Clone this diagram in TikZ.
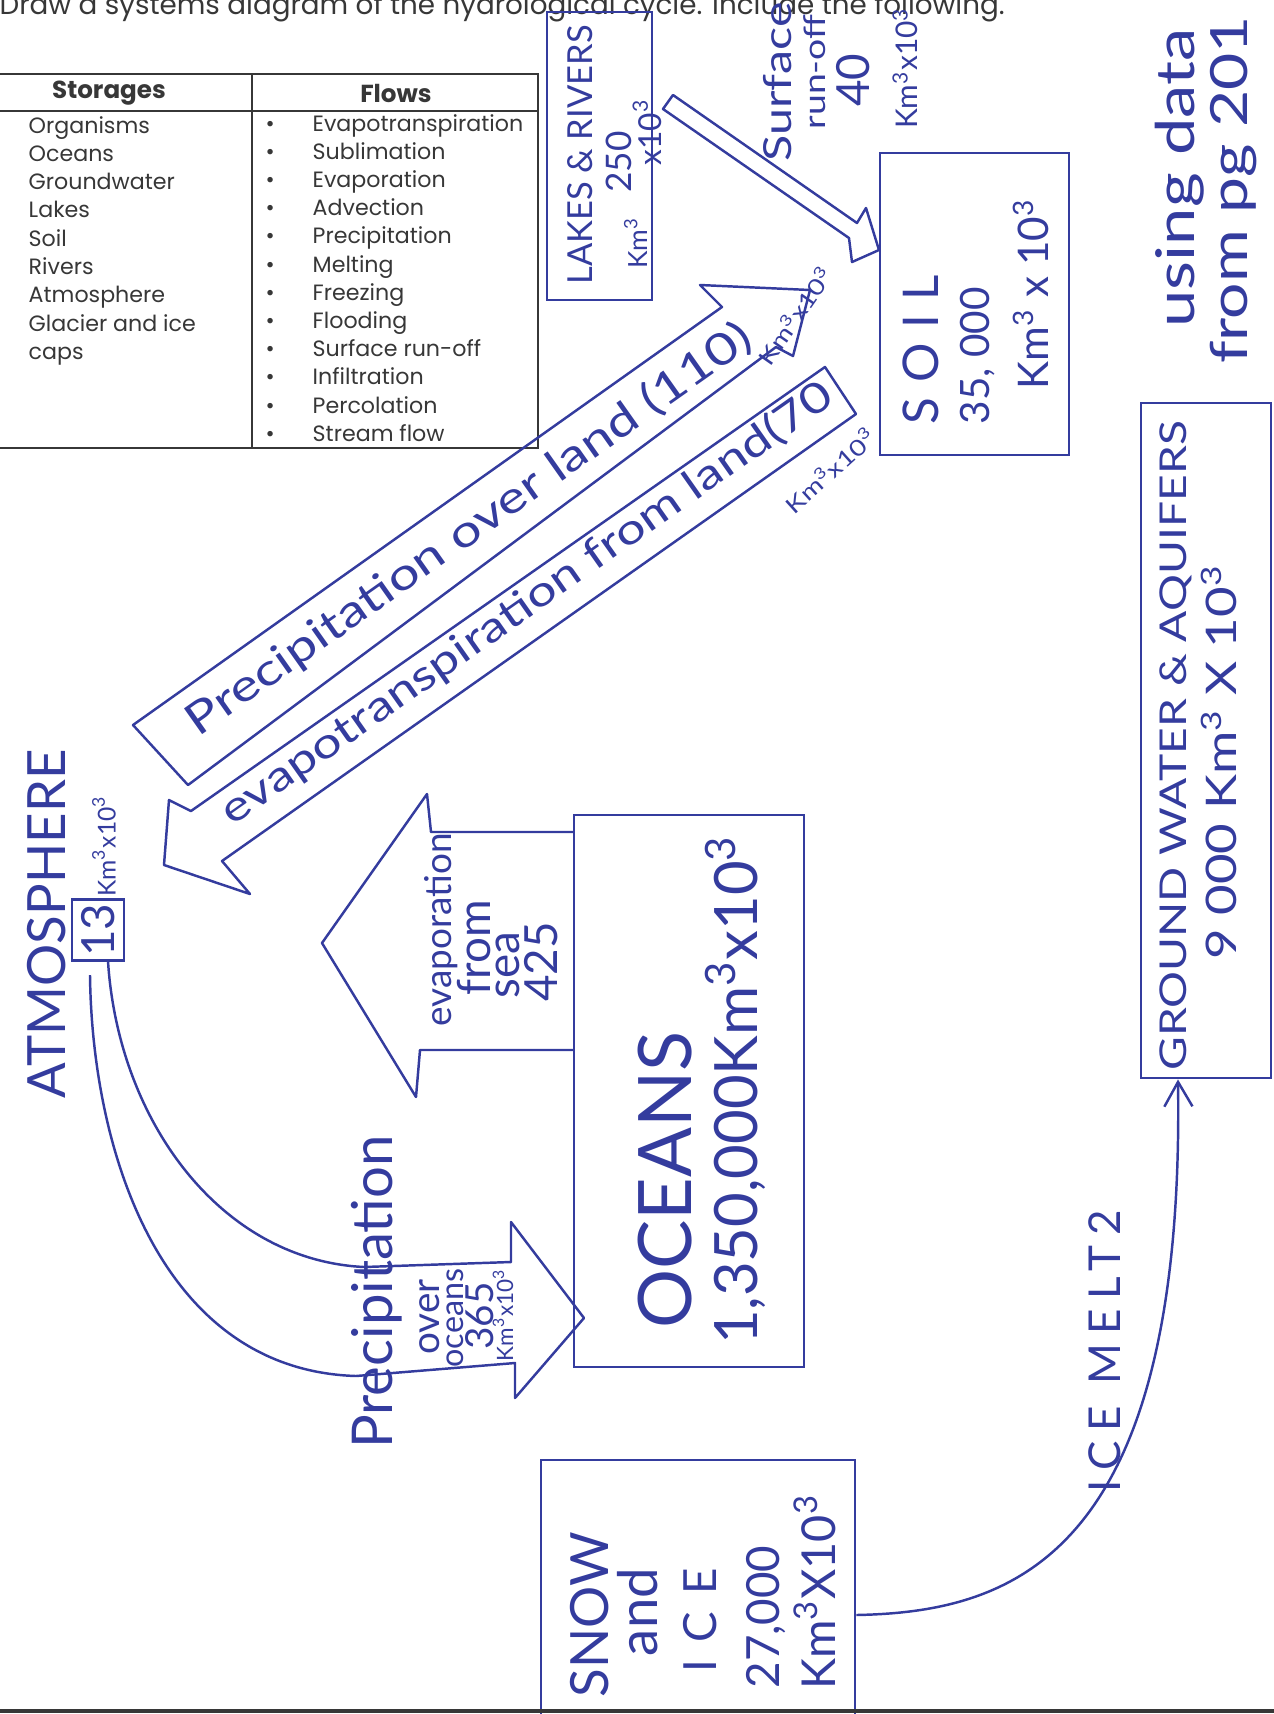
\documentclass[tikz,border=0pt]{standalone}
\usepackage{fontspec}
\setmainfont{Poppins}
\newfontfamily\hand{Lato}
\newfontfamily\handwide[FakeStretch=1.25]{Lato}
\usetikzlibrary{calc,arrows.meta}
\definecolor{pen}{RGB}{52,60,158}
\definecolor{print}{RGB}{55,55,55}
\newcommand\cu{\textsuperscript{3}}
\newcommand\spread[1]{\addfontfeatures{LetterSpace=#1}}
\tikzset{
  hw/.style={text=pen, inner sep=0pt, font=\hand\fontsize{#1}{#1}\selectfont},
  hwup/.style={hw=#1, rotate=90},
  hww/.style={text=pen, inner sep=0pt, font=\handwide\fontsize{#1}{#1}\selectfont},
  hwwup/.style={hww=#1, rotate=90},
  store/.style={draw=pen, line width=0.7pt, inner sep=0pt},
  flow/.style={draw=pen, line width=0.7pt, line join=round},
  cell/.style={text=print, inner sep=0pt, anchor=base west, font=\fontsize{6.3}{8}\selectfont},
  rule/.style={draw=print, line width=0.45pt}
}
\begin{document}
\begin{tikzpicture}[x=0.01cm, y=-0.01cm]
\useasboundingbox (0,0) rectangle (1274,1714);
\clip (0,0) rectangle (1274,1714);

% printed task and table
\node[cell, font=\fontsize{7.9}{9}\selectfont] (task) at (-1,14) {Draw a systems diagram of the hydrological cycle. Include the following.};
\draw[rule] (-5,74) -- (538,74) -- (538,448) -- (-5,448) (-5,111) -- (538,111) (252,74) -- (252,448);
\node[cell, anchor=center, font=\bfseries\fontsize{7}{8}\selectfont] (hstore) at (109,93) {Storages};
\node[cell, anchor=center, font=\bfseries\fontsize{7}{8}\selectfont] (hflow) at (396,93) {Flows};
\foreach \t [count=\i from 0] in {Organisms,Oceans,Groundwater,Lakes,Soil,Rivers,Atmosphere,Glacier and ice,caps}
  \node[cell] (st\i) at (28,133+28.3*\i) {\t};
\foreach \t [count=\i from 0] in {Evapotranspiration,Sublimation,Evaporation,Advection,Precipitation,Melting,Freezing,Flooding,Surface run-off,Infiltration,Percolation,Stream flow}
  {\node[cell] (dot\i) at (265,131+28.2*\i) {\textbullet};
   \node[cell] (fl\i) at (312,131+28.2*\i) {\t};}

% storages
\node[store, minimum width=1.05cm, minimum height=2.88cm] (lakes) at (599.5,156) {};
\node[store, minimum width=1.89cm, minimum height=3.02cm] (soil) at (974.5,304) {};
\node[store, minimum width=1.30cm, minimum height=6.75cm] (gw) at (1206,740.5) {};
\node[store, minimum width=2.30cm, minimum height=5.52cm] (oceans) at (689,1091) {};
\node[store, minimum width=3.14cm, minimum height=2.70cm] (snow) at (698,1595) {};
\node[store, minimum width=0.52cm, minimum height=0.61cm] (atm) at (98,930) {};

\node[hwup=9.8] (lakesname) at (580,155) {LAKES \& RIVERS};
\node[hwup=7.5] (lakesunit) at (636,243) {Km\cu};
\node[hwup=10] (lakesval) at (619,162) {250};
\node[hwup=9] (lakesexp) at (647,132) {x10\cu};

\node[hwup=14, anchor=west] (soilname) at (921,425) {\spread{30}SOIL};
\node[hwup=11.5, anchor=west] (soilval) at (978,425) {35, 000};
\node[hwup=12, anchor=west] (soilunit) at (1031,390) {Km\cu{} x 10\cu};

\node[hwwup=15.2] (src1) at (1180,178) {using data};
\node[hwwup=14.6] (src2) at (1234,190) {from pg 201};

\node[hwwup=10.5] (gwname) at (1176,746) {GROUND WATER \& AQUIFERS};
\node[hwwup=12] (gwval) at (1219,762) {9 000 Km\cu{} X 10\cu};

\node[hwup=21] (ocname) at (665,1180) {OCEANS};
\node[hwup=17] (ocval) at (735,1090) {1,350,000Km\cu x10\cu};

\node[hwup=15] (atmname) at (47,924) {ATMOSPHERE};
\node[hwup=13] (atmval) at (atm) {13};
\node[hwup=7] (atmunit) at (104,846) {Km\cu x10\cu};

\node[hwup=15] (snA) at (590,1615) {SNOW};
\node[hwup=15.5] (snB) at (638,1612) {and};
\node[hwup=13] (snC) at (700,1620) {\spread{38}ICE};
\node[hwup=13] (snD) at (766,1617) {27,000};
\node[hwup=13.3] (snE) at (815,1592) {Km\cu X10\cu};

% flows
\draw[flow] (673,95) -- (857,223) -- (866,208) -- (879,250) -- (852,262) -- (849,238) -- (663,109) -- cycle;
\node[hwwup=11] (runA) at (778,82) {Surface};
\node[hwwup=8.5] (runB) at (815,72) {run-off};
\node[hwup=13] (runC) at (853,80) {40};
\node[hwup=8.5] (runD) at (905,68) {Km\cu x10\cu};

\draw[flow] (133,725) -- (722,307) -- (700,285) -- (810,290) -- (793,356) -- (776,347) -- (188,785) -- cycle;
\node[hww=12.5, rotate=35.2, anchor=base west] (plA) at (198,738) {Precipitation over land (110)};
\node[hww=6.3, rotate=55] (plB) at (795,315) {Km\cu x10\cu};

\draw[flow] (825,367) -- (856,414) -- (222,861) -- (250,894) -- (164,865) -- (169,800) -- (191,811) -- cycle;
\node[hww=11.9, rotate=35.1, anchor=base west] (etA) at (232,827) {evapotranspiration from land(70};
\node[hww=6.3, rotate=42] (etB) at (830,470) {Km\cu x10\cu};

\draw[flow] (574,832) -- (431,832) -- (427,794) -- (322,943) -- (416,1097) -- (420,1050) -- (574,1050);
\node[hwup=10.5] (evA) at (441,930) {evaporation};
\node[hwup=13] (evB) at (474,948) {from};
\node[hwup=13] (evC) at (508,965) {sea};
\node[hwup=13] (evD) at (541,962) {425};

\draw[flow] (108,961) .. controls (118,1120) and (220,1260) .. (364,1267) -- (511,1262) -- (511,1222) -- (584,1318) -- (515,1398) -- (515,1363) -- (356,1376) .. controls (160,1370) and (92,1150) .. (90,975);
\node[hwup=16] (poA) at (377,1292) {Precipitation};
\node[hwup=11] (poB) at (430,1317) {over};
\node[hwup=9.2] (poC) at (455,1318) {oceans};
\node[hwup=11] (poD) at (480,1316) {365};
\node[hwup=6.4] (poE) at (503,1315) {Km\cu x10\cu};

\draw[flow, -{Straight Barb[length=7pt,width=8pt]}] ($(snow.east)+(0,20)$) .. controls (1010,1612) and (1185,1560) .. ($(gw.south)+(-28,0)$);
\node[hwup=12.5] (meltlbl) at (1105,1351) {\spread{22}ICE MELT2};

\draw[print, line width=1pt] (0,1711) -- (1274,1711);
\end{tikzpicture}
\end{document}
